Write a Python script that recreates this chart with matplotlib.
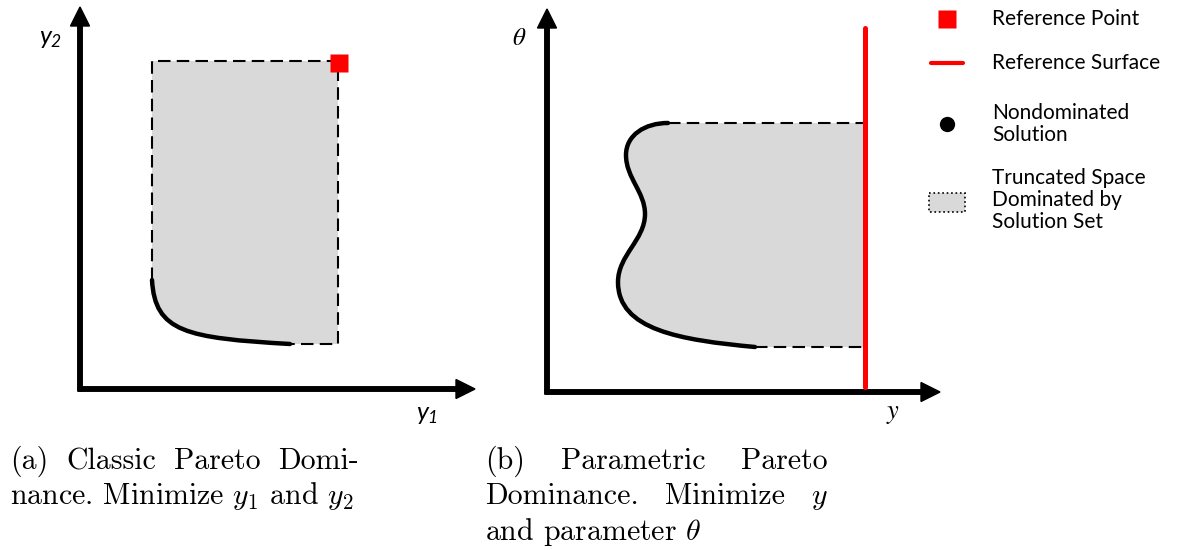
import matplotlib
matplotlib.use("Agg")
import matplotlib.pyplot as plt
import matplotlib.patches as patches
from matplotlib.path import Path

# canvas in pixel units (origin top-left)
W, H = 1178, 550

plt.rcParams['mathtext.fontset'] = 'custom'
plt.rcParams['mathtext.it'] = 'Lato:italic'
plt.rcParams['mathtext.rm'] = 'Lato:italic'

# ---- panel (a): classic Pareto dominance ----
origin_a = (80, 389)
xaxis_end_a = 475
yaxis_end_a = 7
ref_point_a = (339, 63)
box_a = (152, 338, 61, 344)          # left, right, top, bottom
# Pareto front as one cubic Bezier: start, ctrl, ctrl, end
front_a = [(152, 280), (155, 332), (186, 338), (290, 344)]

# ---- panel (b): parametric Pareto dominance ----
origin_b = (547, 392)
xaxis_end_b = 940
yaxis_end_b = 9
ref_surface_x = 865
ref_surface_y = (28, 387)
band_b = (123, 347)                  # top, bottom of truncated region
# nondominated front as chained cubic Beziers
front_b = [(668, 123),
           (645, 123), (626, 135), (626, 155),
           (626, 178), (645, 192), (645, 214),
           (645, 240), (618, 255), (618, 282),
           (618, 330), (680, 340), (755, 347)]

# ---- legend ----
legend_labels = ["Reference Point", "Reference Surface",
                 "Nondominated\nSolution",
                 "Truncated Space\nDominated by\nSolution Set"]
legend_y = [19, 63, 124, 200]

# ---- captions ----
cap_a = [["(a)", "Classic", "Pareto", "Domi-"],
         "nance. Minimize $y_1$ and $y_2$"]
cap_b = [["(b)", "Parametric", "Pareto"],
         ["Dominance.", "Minimize", "$y$"],
         "and parameter $\\theta$"]

GRAY = '#d9d9d9'
RED = '#ff0000'

fig = plt.figure(figsize=(W / 100, H / 100), dpi=100)
ax = fig.add_axes([0, 0, 1, 1])
ax.set_xlim(0, W)
ax.set_ylim(H, 0)
ax.axis('off')


def arrow(x0, y0, x1, y1):
    ax.arrow(x0, y0, x1 - x0, y1 - y0, width=4.5, head_width=19,
             head_length=19, length_includes_head=True, color='black',
             zorder=5)


def dashed(xs, ys):
    ln, = ax.plot(xs, ys, color='black', lw=1.5, zorder=3)
    ln.set_dashes((6, 3))


# panel (a)
l, r, t, b = box_a
codes_a = [Path.MOVETO, Path.CURVE4, Path.CURVE4, Path.CURVE4]
fill_a = Path(front_a + [(r, b), (r, t), (l, t), front_a[0]],
              codes_a + [Path.LINETO] * 4)
ax.add_patch(patches.PathPatch(fill_a, facecolor=GRAY, edgecolor='none', zorder=1))
ax.add_patch(patches.PathPatch(Path(front_a, codes_a), facecolor='none',
                               edgecolor='black', lw=3.2, capstyle='round', zorder=4))
dashed([l, l, r, r, front_a[-1][0]], [front_a[0][1], t, t, b, b])
ax.plot(*ref_point_a, marker='s', ms=13, color=RED, mec='none', zorder=6)
arrow(origin_a[0], origin_a[1] + 2, origin_a[0], yaxis_end_a)
arrow(origin_a[0] - 2, origin_a[1], xaxis_end_a, origin_a[1])
ax.text(51, 38, "$y_2$", fontsize=18, ha='center', va='center')
ax.text(427, 414, "$y_1$", fontsize=18, ha='center', va='center')

# panel (b)
top, bot = band_b
codes_b = [Path.MOVETO] + [Path.CURVE4] * (len(front_b) - 1)
fill_b = Path(front_b + [(ref_surface_x, bot), (ref_surface_x, top), front_b[0]],
              codes_b + [Path.LINETO] * 3)
ax.add_patch(patches.PathPatch(fill_b, facecolor=GRAY, edgecolor='none', zorder=1))
ax.add_patch(patches.PathPatch(Path(front_b, codes_b), facecolor='none',
                               edgecolor='black', lw=3.2, capstyle='round', zorder=4))
dashed([front_b[0][0], ref_surface_x + 3], [top, top])
dashed([front_b[-1][0], ref_surface_x], [bot, bot])
ax.plot([ref_surface_x] * 2, ref_surface_y, color=RED, lw=3.6,
        solid_capstyle='round', zorder=6)
arrow(origin_b[0], origin_b[1] + 2, origin_b[0], yaxis_end_b)
arrow(origin_b[0] - 2, origin_b[1], xaxis_end_b, origin_b[1])
ax.text(519, 38, r"$\theta$", fontsize=18, ha='center', va='center',
        math_fontfamily='stix')
ax.text(893, 413, "$y$", fontsize=19, ha='center', va='center',
        math_fontfamily='stix')

# legend
lx, tx = 947, 992
ax.plot(lx, legend_y[0], marker='s', ms=13, color=RED, mec='none')
ax.plot([931, 963], [legend_y[1]] * 2, color=RED, lw=3, solid_capstyle='round')
ax.plot(lx, legend_y[2], marker='o', ms=10, color='black')
ax.add_patch(patches.Rectangle((929, 193), 36, 19, facecolor=GRAY,
                               edgecolor='black', lw=1.2, linestyle=':'))
for lab, y in zip(legend_labels, legend_y):
    ax.text(tx, y, lab, fontsize=15, family='Lato', ha='left', va='center',
            linespacing=1.1)

# captions, justified like a LaTeX paragraph
CAP = dict(family='cmr10', math_fontfamily='cm', fontsize=21.5, va='baseline')
renderer = fig.canvas.get_renderer()


def caption(lines, x0, x1, y0, step=35.5):
    for i, line in enumerate(lines):
        y = y0 + i * step
        if isinstance(line, str):
            ax.text(x0, y, line, ha='left', **CAP)
            continue
        words = [ax.text(x0, y, w, ha='left', **CAP) for w in line]
        widths = [w.get_window_extent(renderer).width for w in words]
        gap = (x1 - x0 - sum(widths)) / (len(words) - 1)
        x = x0
        for w, wd in zip(words, widths):
            w.set_x(x)
            x += wd + gap


caption(cap_a, 10, 359, 469)
caption(cap_b, 485, 828, 469)

fig.savefig("out.png", dpi=100)
